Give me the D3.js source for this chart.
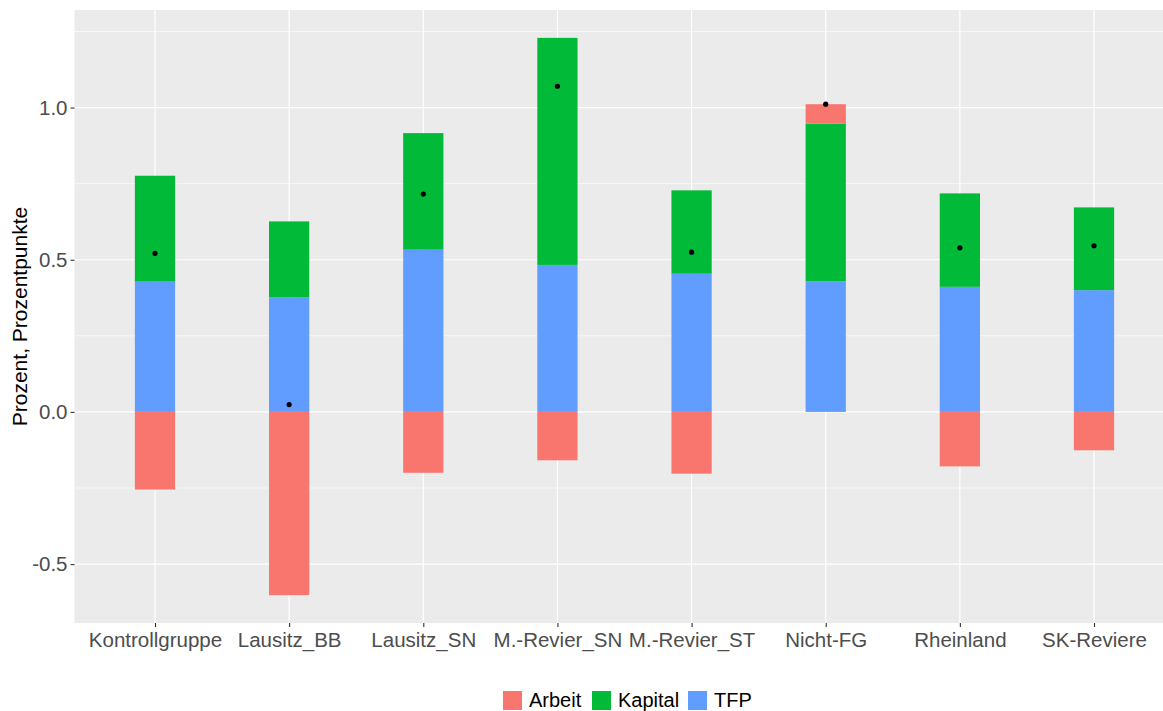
<!DOCTYPE html>
<html lang="de">
<head>
    <title>Wachstumszerlegung</title>
    <meta charset="utf-8">
    <script src="https://d3js.org/d3.v7.min.js"></script>
    <style>
        body { margin: 0; background: #fff; }
        text { font-family: "Liberation Sans", Arial, sans-serif; }
    </style>
</head>
<body>
<div id="chart"></div>
<script>
    // Data
    const regions = ["Kontrollgruppe", "Lausitz_BB", "Lausitz_SN", "M.-Revier_SN",
        "M.-Revier_ST", "Nicht-FG", "Rheinland", "SK-Reviere"];
    const arbeit  = [-0.255, -0.602, -0.200, -0.159, -0.203, 0.064, -0.179, -0.126];
    const kapital = [0.348, 0.250, 0.383, 0.746, 0.274, 0.518, 0.307, 0.272];
    const tfp     = [0.428, 0.376, 0.533, 0.483, 0.454, 0.429, 0.411, 0.400];
    const gesamt  = [0.521, 0.024, 0.716, 1.070, 0.525, 1.011, 0.539, 0.546];
    const yTicks = [-0.5, 0, 0.5, 1.0];
    const yMinor = [-0.25, 0.25, 0.75, 1.25];

    const components = ["Arbeit", "Kapital", "TFP"];
    const colors = {Arbeit: "#F8766D", Kapital: "#00BA38", TFP: "#619CFF"};

    const width = 1163, height = 711;
    const panel = {left: 74.5, top: 10, right: 1174.5, bottom: 623};

    const rows = regions.map((r, i) => ({
        region: r, Arbeit: arbeit[i], Kapital: kapital[i], TFP: tfp[i], total: gesamt[i]
    }));

    const svg = d3.select("#chart")
        .append("svg")
        .attr("width", width)
        .attr("height", height);

    // stack: TFP at the base, Arbeit on top (ggplot order)
    const series = d3.stack()
        .keys(["TFP", "Kapital", "Arbeit"])
        .offset(d3.stackOffsetDiverging)(rows);

    const lo = d3.min(series, s => d3.min(s, d => d[0]));
    const hi = d3.max(series, s => d3.max(s, d => d[1]));
    const pad = (hi - lo) * 0.05;

    const x = d3.scalePoint()
        .domain(regions)
        .range([panel.left, panel.right])
        .padding(0.6);

    const y = d3.scaleLinear()
        .domain([lo - pad, hi + pad])
        .range([panel.bottom, panel.top]);

    const barW = x.step() * 0.3;

    // panel background
    svg.append("rect")
        .attr("x", panel.left)
        .attr("y", panel.top)
        .attr("width", panel.right - panel.left)
        .attr("height", panel.bottom - panel.top)
        .attr("fill", "#EBEBEB");

    // grid
    svg.append("g")
        .selectAll("line")
        .data(yMinor)
        .join("line")
        .attr("x1", panel.left).attr("x2", panel.right)
        .attr("y1", d => y(d)).attr("y2", d => y(d))
        .attr("stroke", "#fff").attr("stroke-width", 0.6);

    svg.append("g")
        .selectAll("line")
        .data(yTicks)
        .join("line")
        .attr("x1", panel.left).attr("x2", panel.right)
        .attr("y1", d => y(d)).attr("y2", d => y(d))
        .attr("stroke", "#fff").attr("stroke-width", 1.2);

    svg.append("g")
        .selectAll("line")
        .data(regions)
        .join("line")
        .attr("x1", d => x(d)).attr("x2", d => x(d))
        .attr("y1", panel.top).attr("y2", panel.bottom)
        .attr("stroke", "#fff").attr("stroke-width", 1.2);

    // bars
    svg.append("g")
        .selectAll("g")
        .data(series)
        .join("g")
        .attr("fill", s => colors[s.key])
        .selectAll("rect")
        .data(s => s)
        .join("rect")
        .attr("x", d => x(d.data.region) - barW / 2)
        .attr("y", d => y(Math.max(d[0], d[1])))
        .attr("width", barW)
        .attr("height", d => Math.abs(y(d[0]) - y(d[1])));

    // total points
    svg.append("g")
        .selectAll("circle")
        .data(rows)
        .join("circle")
        .attr("cx", d => x(d.region))
        .attr("cy", d => y(d.total))
        .attr("r", 2.6)
        .attr("fill", "#000");

    // axes (plain hyphen for negatives, like R)
    const fmt = d => d3.format(".1f")(d).replace("\u2212", "-");

    const yAxis = svg.append("g")
        .attr("transform", `translate(${panel.left},0)`)
        .call(d3.axisLeft(y).tickValues(yTicks).tickFormat(fmt).tickSize(4).tickPadding(3));

    const xAxis = svg.append("g")
        .attr("transform", `translate(0,${panel.bottom})`)
        .call(d3.axisBottom(x).tickSize(4).tickPadding(5));

    [yAxis, xAxis].forEach(a => {
        a.select(".domain").remove();
        a.selectAll(".tick line").attr("stroke", "#333").attr("stroke-width", 1.1);
        a.selectAll(".tick text")
            .attr("fill", "#4D4D4D")
            .style("font-size", "20.5px")
            .style("font-family", "'Liberation Sans', Arial, sans-serif");
    });
    xAxis.selectAll(".tick text").attr("dy", "0.75em");

    // y title
    svg.append("text")
        .attr("transform", `translate(27,${(panel.top + panel.bottom) / 2}) rotate(-90)`)
        .attr("text-anchor", "middle")
        .style("font-size", "21px")
        .attr("fill", "#000")
        .text("Prozent, Prozentpunkte");

    // legend
    const legendX = [503, 592, 688];
    const legend = svg.append("g")
        .selectAll("g")
        .data(components)
        .join("g")
        .attr("transform", (d, i) => `translate(${legendX[i]},691)`);

    legend.append("rect")
        .attr("width", 19)
        .attr("height", 19)
        .attr("fill", d => colors[d]);

    legend.append("text")
        .attr("x", 26)
        .attr("y", 16)
        .style("font-size", "20px")
        .attr("fill", "#000")
        .text(d => d);
</script>
</body>
</html>
